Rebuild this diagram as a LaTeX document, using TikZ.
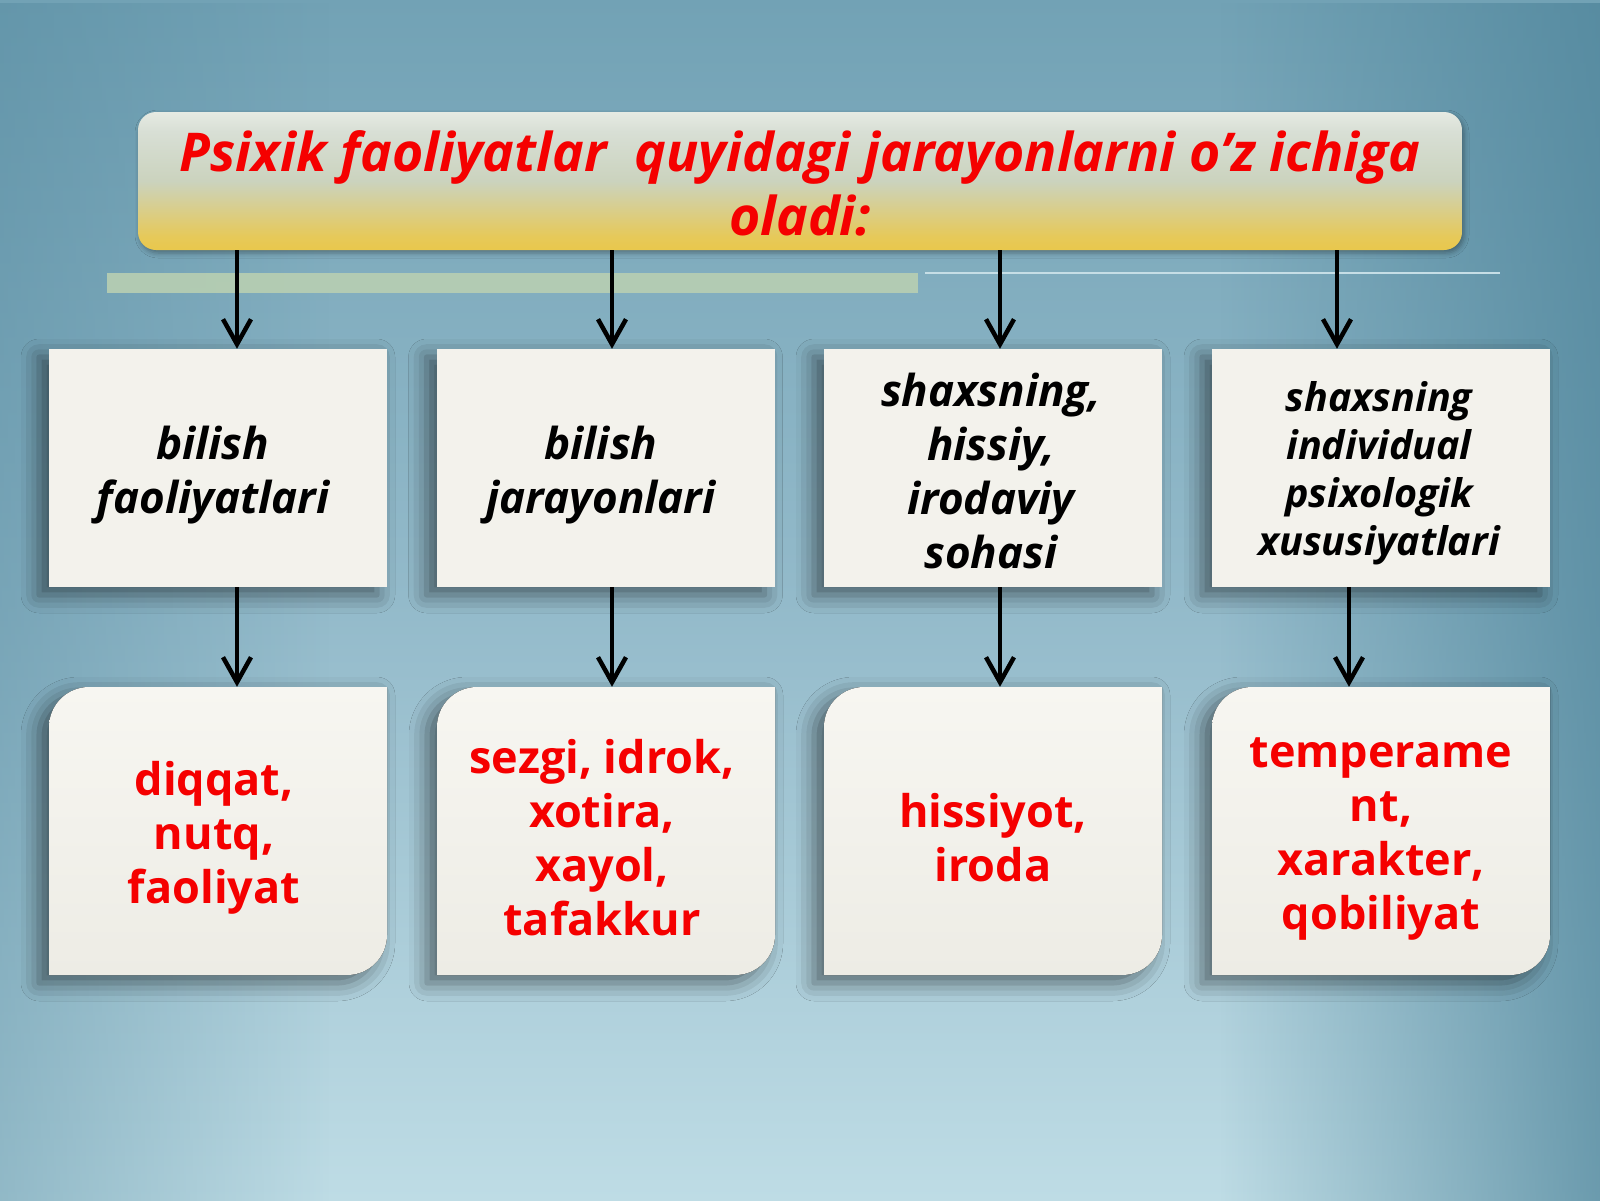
\documentclass[tikz,border=0pt]{standalone}
\usepackage{fontspec}
\setmainfont{Open Sans}
\usetikzlibrary{arrows.meta,shadows.blur,fadings}
\definecolor{bgtop}{HTML}{72A2B5}
\definecolor{bgmid}{HTML}{93BACA}
\definecolor{bgbot}{HTML}{BEDCE5}
\definecolor{bgedge}{HTML}{4F859B}
\definecolor{ty0}{HTML}{F1BE12}
\definecolor{ty1}{HTML}{F0C426}
\definecolor{ty2}{HTML}{E6C95A}
\definecolor{ty3}{HTML}{CBD3BE}
\definecolor{ty4}{HTML}{D8DFD5}
\definecolor{ty5}{HTML}{FAFAF6}
\definecolor{ty6}{HTML}{FFFFFF}
\definecolor{boxfill}{HTML}{F3F2EC}
\definecolor{boxtop}{HTML}{F7F6F1}
\definecolor{boxbot}{HTML}{EDECE5}
\definecolor{txtred}{HTML}{F50000}
\definecolor{bandgreen}{HTML}{B8CFB2}
\definecolor{thinline}{HTML}{C6DEE6}
\pgfdeclareverticalshading{bgshade}{100bp}{color(0bp)=(bgbot); color(25bp)=(bgbot); color(50bp)=(bgmid); color(75bp)=(bgtop); color(100bp)=(bgtop)}
\pgfdeclareverticalshading{titleshade}{100bp}{color(0bp)=(ty0); color(12bp)=(ty1); color(30bp)=(ty2); color(50bp)=(ty3); color(68bp)=(ty4); color(85bp)=(ty5); color(100bp)=(ty6)}
\tikzset{
  titlebox/.style={rectangle, rounded corners=18pt, shading=titleshade, minimum width=1324pt, minimum height=138pt, inner sep=0pt, blur shadow={shadow xshift=2pt, shadow yshift=-3pt, shadow blur radius=5pt, shadow opacity=35}},
  titletext/.style={align=center, inner sep=0pt, text=txtred, font=\fontsize{53.5}{64}\selectfont\bfseries\itshape},
  midbox/.style={rectangle, fill=boxfill, minimum width=338pt, minimum height=238pt, inner sep=0pt, blur shadow={shadow xshift=-10pt, shadow yshift=-8pt, shadow blur radius=18pt, shadow opacity=50}},
  midtext/.style={align=center, inner sep=0pt, text=black, font=\fontsize{44}{54}\selectfont\bfseries\itshape},
  smalltext/.style={font=\fontsize{39.5}{48}\selectfont\bfseries\itshape},
  botshape/.style={top color=boxtop, bottom color=boxbot, blur shadow={shadow xshift=-10pt, shadow yshift=-8pt, shadow blur radius=18pt, shadow opacity=50}},
  botarea/.style={rectangle, minimum width=338pt, minimum height=288pt, inner sep=0pt},
  bottext/.style={align=center, inner sep=0pt, text=txtred, font=\fontsize{45}{54}\selectfont\bfseries},
  arr/.style={line width=4.5pt, -{Straight Barb[length=25pt,width=28pt]}},
}
\begin{document}
\begin{tikzpicture}[x=1pt,y=-1pt]
\useasboundingbox (0,0) rectangle (1600,1200);
% background
\shade[shading=bgshade] (0,0) rectangle (1600,1200);
\fill[bgedge, opacity=0.75, path fading=west] (1220,0) rectangle (1600,1200);
\fill[bgedge, opacity=0.4, path fading=east] (0,0) rectangle (330,1200);
% band and thin line
\fill[bandgreen, opacity=0.9] (107,273) rectangle (918,293);
\draw[thinline, line width=1.5pt] (925,273) -- (1500,273);
% title
\node[titlebox] (t) at (800,181) {};
\node[titletext] (tt) at (800,183) {Psixik faoliyatlar\ \ quyidagi jarayonlarni o’z ichiga\\oladi:};
% middle boxes
\node[midbox] (m1) at (218,468) {};
\node[midbox] (m2) at (605.5,468) {};
\node[midbox] (m3) at (993,468) {};
\node[midbox] (m4) at (1381,468) {};
\node[midtext] (m1t) at (213,475) {bilish\\faoliyatlari};
\node[midtext] (m2t) at (601,475) {bilish\\jarayonlari};
\node[midtext] (m3t) at (991,471) {shaxsning,\\hissiy,\\irodaviy\\sohasi};
\node[midtext, smalltext] (m4t) at (1379,473) {shaxsning\\individual\\psixologik\\xususiyatlari};
% bottom shapes
\foreach \xa in {49,437,824,1212}{
  \pgfmathsetmacro{\xb}{\xa+338}
  \fill[botshape] (\xa,975) -- (\xa,727) .. controls (\xa,705) and ({\xa+18},687) .. ({\xa+40},687) -- (\xb,687) -- (\xb,935) .. controls (\xb,957) and ({\xb-18},975) .. ({\xb-40},975) -- cycle;
}
\node[botarea] (b1) at (218,831) {};
\node[botarea] (b2) at (606,831) {};
\node[botarea] (b3) at (993,831) {};
\node[botarea] (b4) at (1381,831) {};
\node[bottext] (b1t) at (214,838) {diqqat,\\nutq,\\faoliyat};
\node[bottext] (b2t) at (602,838) {sezgi, idrok,\\xotira,\\xayol,\\tafakkur};
\node[bottext] (b3t) at (993,838) {hissiyot,\\iroda};
\node[bottext] (b4t) at (1381,839) {temperame\\nt,\\xarakter,\\qobiliyat};
% arrow x positions
\coordinate (a1) at (237,0);
\coordinate (a2) at (612,0);
\coordinate (a3) at (1000,0);
\coordinate (a4) at (1337,0);
\coordinate (c4) at (1349,0);
\draw[arr] (t.south -| a1) -- (m1.north -| a1);
\draw[arr] (t.south -| a2) -- (m2.north -| a2);
\draw[arr] (t.south -| a3) -- (m3.north -| a3);
\draw[arr] (t.south -| a4) -- (m4.north -| a4);
\draw[arr] (m1.south -| a1) -- (b1.north -| a1);
\draw[arr] (m2.south -| a2) -- (b2.north -| a2);
\draw[arr] (m3.south -| a3) -- (b3.north -| a3);
\draw[arr] (m4.south -| c4) -- (b4.north -| c4);
\end{tikzpicture}
\end{document}
